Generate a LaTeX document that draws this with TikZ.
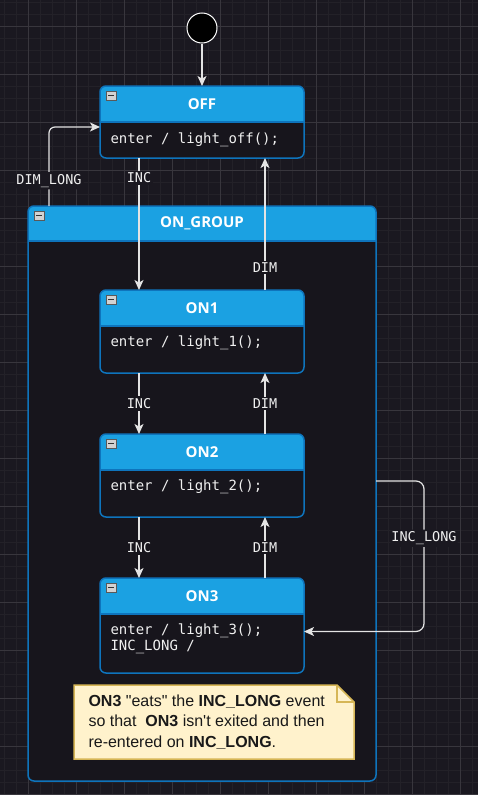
\documentclass[tikz,border=0pt]{standalone}
\usepackage{fontspec}
\newfontfamily\monofont{DejaVu Sans Mono}
\newfontfamily\titlefont{Open Sans}
\newfontfamily\notefont{Liberation Sans}
\usetikzlibrary{arrows.meta}
\definecolor{canvas}{HTML}{1A1820}
\definecolor{gridmajor}{HTML}{38363D}
\definecolor{gridminor}{HTML}{232128}
\definecolor{hdrblue}{HTML}{1BA1E2}
\definecolor{edgeblue}{HTML}{0E74BC}
\definecolor{bodydark}{HTML}{17151C}
\definecolor{wire}{HTML}{E4E4E4}
\definecolor{notefill}{HTML}{FFF2CC}
\definecolor{noteedge}{HTML}{D6B656}
\tikzset{
  statebox/.style={inner sep=0pt, outer sep=0pt},
  statetitle/.style={text=white, font=\titlefont\bfseries\fontsize{15}{18}\selectfont},
  entrytext/.style={text=white!94!black, anchor=west, align=left, font=\monofont\fontsize{14}{16}\selectfont},
  trans/.style={draw=wire, line width=1.2pt, -{Stealth[length=10pt,width=9pt,inset=2.5pt]}},
  lbl/.style={fill=bodydark, text=white!94!black, inner sep=2pt, font=\monofont\fontsize{13.5}{16}\selectfont},
  notetext/.style={text=black!90, anchor=west, align=left, font=\notefont\fontsize{16}{20.5}\selectfont},
}
\begin{document}
\begin{tikzpicture}[x=1pt,y=-1pt]
\useasboundingbox (0,0) rectangle (478,795);
% canvas and grid
\fill[canvas] (0,0) rectangle (478,795);
\foreach \x in {4,16,...,476} \draw[gridminor] (\x,0) -- (\x,795);
\foreach \y in {2,14,...,794} \draw[gridminor] (0,\y) -- (478,\y);
\foreach \x in {28,76,...,460} \draw[gridmajor] (\x,0) -- (\x,795);
\foreach \y in {26,74,...,794} \draw[gridmajor] (0,\y) -- (478,\y);
% state frames
\node[statebox, minimum width=348pt, minimum height=575pt] (group) at (202,493.5) {};
\node[statebox, minimum width=204pt, minimum height=72pt] (off) at (202,122) {};
\node[statebox, minimum width=204pt, minimum height=83pt] (on1) at (202,331.5) {};
\node[statebox, minimum width=204pt, minimum height=83pt] (on2) at (202,475.5) {};
\node[statebox, minimum width=204pt, minimum height=95pt] (on3) at (202,625.5) {};
\foreach \s/\h in {group/35,off/36,on1/36,on2/36,on3/36}{
  \fill[bodydark, rounded corners=6pt] (\s.north west) rectangle (\s.south east);
  \begin{scope}
    \clip (\s.north west) rectangle ([yshift=-\h pt]\s.north east);
    \fill[hdrblue, rounded corners=6pt] (\s.north west) rectangle (\s.south east);
  \end{scope}
  \draw[edgeblue, line width=1.5pt] ([yshift=-\h pt]\s.north west) -- ([yshift=-\h pt]\s.north east);
  \draw[edgeblue, line width=1.5pt, rounded corners=6pt] (\s.north west) rectangle (\s.south east);
  % collapse icon
  \filldraw[fill=gray!35, draw=gray!70!black] ([shift={(6pt,-5pt)}]\s.north west) rectangle ([shift={(16pt,-14pt)}]\s.north west);
  \draw[black!80, line width=1.5pt] ([shift={(8pt,-9.5pt)}]\s.north west) -- ([shift={(14pt,-9.5pt)}]\s.north west);
}
% titles and entry actions
\node[statetitle] (groupname) at ([yshift=-17.5pt]group.north) {ON\_GROUP};
\node[statetitle] (offname) at ([yshift=-18pt]off.north) {OFF};
\node[statetitle] (on1name) at ([yshift=-18pt]on1.north) {ON1};
\node[statetitle] (on2name) at ([yshift=-18pt]on2.north) {ON2};
\node[statetitle] (on3name) at ([yshift=-18pt]on3.north) {ON3};
\node[entrytext] (offdo) at ([shift={(7pt,-54pt)}]off.north west) {enter / light\_off();};
\node[entrytext] (on1do) at ([shift={(7pt,-53pt)}]on1.north west) {enter / light\_1();};
\node[entrytext] (on2do) at ([shift={(7pt,-53pt)}]on2.north west) {enter / light\_2();};
\node[entrytext] (on3do) at ([shift={(7pt,-61pt)}]on3.north west) {enter / light\_3();\\INC\_LONG /};
% initial point
\node[circle, fill=black, draw=white, line width=1pt, minimum size=30pt, inner sep=0pt] (init) at (202,28) {};
% transitions
\draw[trans] (init) -- (off);
\draw[trans, rounded corners=6pt] ([xshift=21pt]group.north west) |- node[lbl, fill=canvas, pos=0.16] (dimlong) {DIM\_LONG} ([yshift=-5pt]off.west);
\draw[trans] ([xshift=-63pt]off.south) -- node[lbl, fill=canvas, pos=0.15] (incoff) {INC} ([xshift=-63pt]on1.north);
\draw[trans] ([xshift=63pt]on1.north) -- node[lbl, pos=0.17] (dimon1) {DIM} ([xshift=63pt]off.south);
\draw[trans] ([xshift=-63pt]on1.south) -- node[lbl] (incon1) {INC} ([xshift=-63pt]on2.north);
\draw[trans] ([xshift=63pt]on2.north) -- node[lbl] (dimon2) {DIM} ([xshift=63pt]on1.south);
\draw[trans] ([xshift=-63pt]on2.south) -- node[lbl] (incon2) {INC} ([xshift=-63pt]on3.north);
\draw[trans] ([xshift=63pt]on3.north) -- node[lbl] (dimon3) {DIM} ([xshift=63pt]on2.south);
\draw[trans, rounded corners=8pt] ([yshift=12.5pt]group.east) -- ++(48,0) |- node[lbl, fill=canvas, pos=0.19] (inclong) {INC\_LONG} ([yshift=-6pt]on3.east);
% note
\node[statebox, minimum width=280pt, minimum height=74pt] (note) at (214,722) {};
\filldraw[fill=notefill, draw=noteedge, line width=1.5pt] (note.north west) -- ([xshift=-17pt]note.north east) -- ([yshift=-17pt]note.north east) -- (note.south east) -- (note.south west) -- cycle;
\draw[noteedge, line width=1.5pt] ([xshift=-17pt]note.north east) |- ([yshift=-17pt]note.north east);
\node[notetext] (notetxt) at ([xshift=11pt]note.west) {\textbf{ON3} "eats" the \textbf{INC\_LONG} event\\so that\ \ \textbf{ON3} isn't exited and then\\re-entered on \textbf{INC\_LONG}.};
\end{tikzpicture}
\end{document}
